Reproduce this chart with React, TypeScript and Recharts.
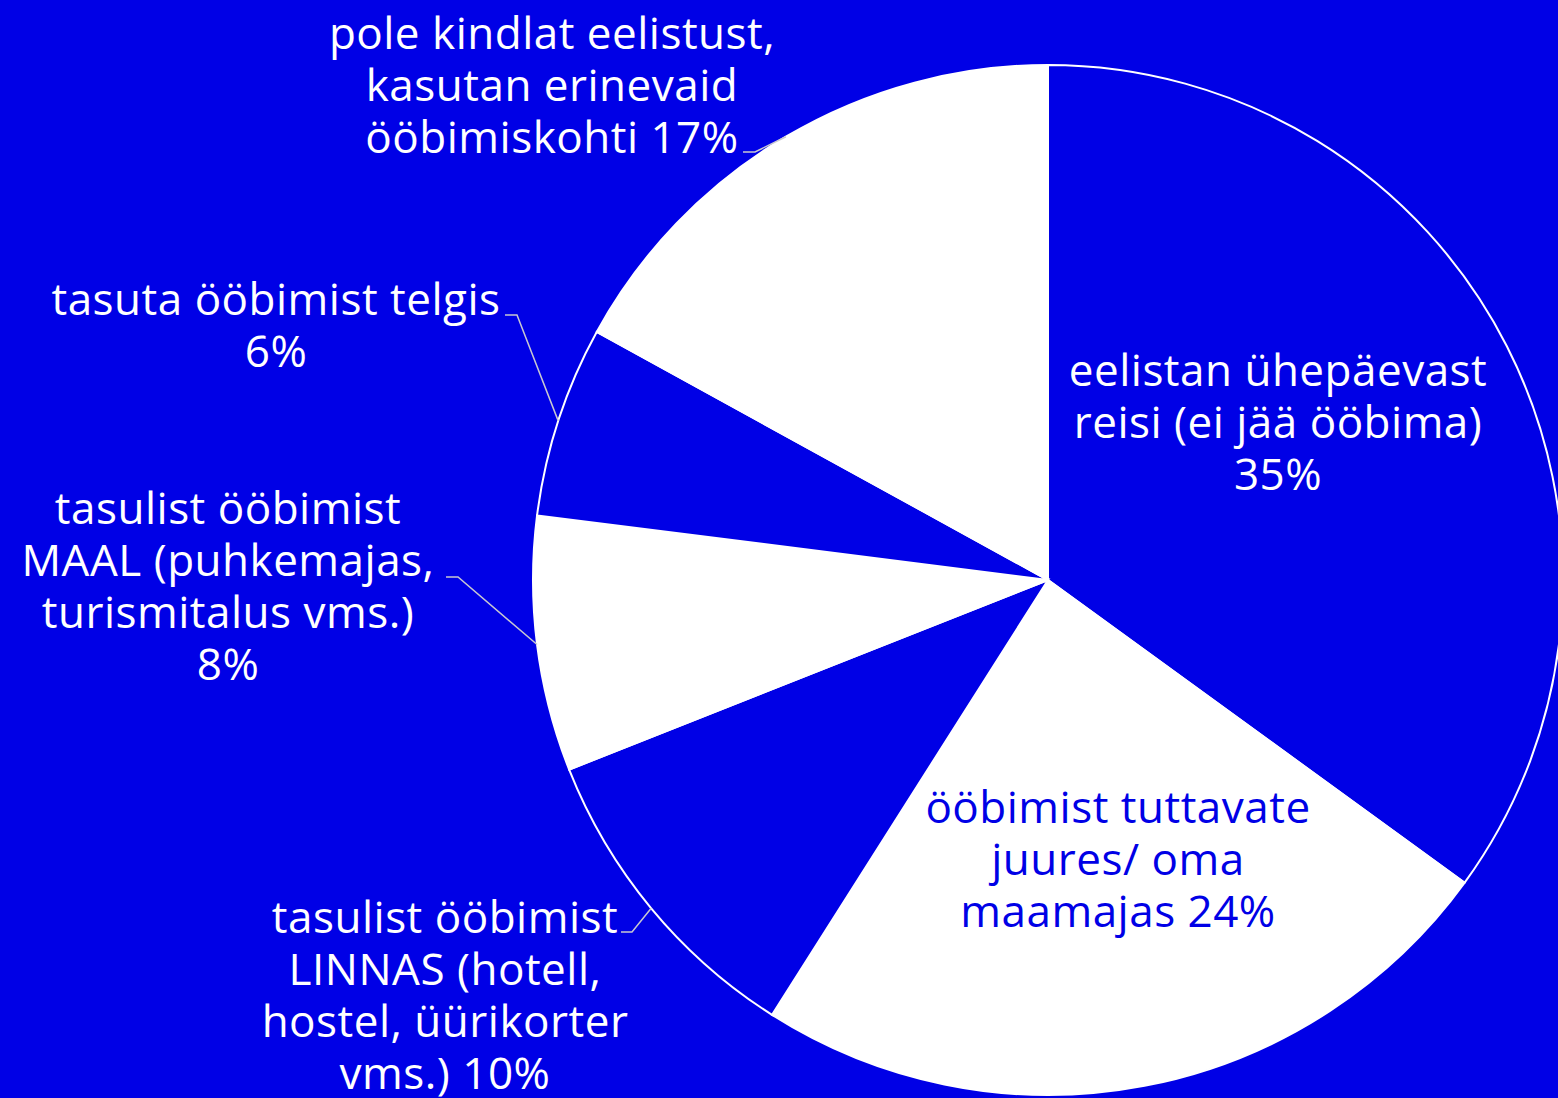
import React from "react";
import { PieChart, Pie, Cell } from "recharts";

const BLUE = "#0000e6";
const WHITE = "#ffffff";
const LEADER = "#c8c8d0";

const categories = [
  "eelistan ühepäevast reisi (ei jää ööbima)",
  "ööbimist tuttavate juures/ oma maamajas",
  "tasulist ööbimist LINNAS (hotell, hostel, üürikorter vms.)",
  "tasulist ööbimist MAAL (puhkemajas, turismitalus vms.)",
  "tasuta ööbimist telgis",
  "pole kindlat eelistust, kasutan erinevaid ööbimiskohti",
];
const values = [35, 24, 10, 8, 6, 17];
const sliceColors = [BLUE, WHITE, BLUE, WHITE, BLUE, WHITE];
const labelLines = [
  ["eelistan ühepäevast", "reisi (ei jää ööbima)", `${values[0]}%`],
  ["ööbimist tuttavate", "juures/ oma", `maamajas ${values[1]}%`],
  ["tasulist ööbimist", "LINNAS (hotell,", "hostel, üürikorter", `vms.) ${values[2]}%`],
  ["tasulist ööbimist", "MAAL (puhkemajas,", "turismitalus vms.)", `${values[3]}%`],
  ["tasuta ööbimist telgis", `${values[4]}%`],
  ["pole kindlat eelistust,", "kasutan erinevaid", `ööbimiskohti ${values[5]}%`],
];

const data = categories.map((name, i) => ({ name, value: values[i] }));

// label layout, offsets relative to the pie centre
const labelLayout = [
  { inside: true, tx: 230, ty: -194, color: WHITE },
  { inside: true, tx: 70, ty: 243, color: BLUE },
  { inside: false, tx: -603, ty: 353, ex: -416, ey: 352, sx: -427, color: WHITE },
  { inside: false, tx: -820, ty: -56, ex: -590, ey: -3, sx: -602, color: WHITE },
  { inside: false, tx: -772, ty: -265, ex: -531, ey: -265, sx: -543, color: WHITE },
  { inside: false, tx: -496, ty: -531, ex: -293, ey: -428, sx: -305, color: WHITE },
];

const FONT = "'Open Sans', Lato, sans-serif";
const FONT_SIZE = 44;
const LETTER_SPACING = 0.5;
const LINE_H = 52;
const RAD = Math.PI / 180;

const renderLabel = (props: any) => {
  const { cx, cy, midAngle, outerRadius, index } = props;
  const L = labelLayout[index];
  const lines = labelLines[index];
  const parts: React.ReactNode[] = [];
  if (!L.inside) {
    const px = cx + outerRadius * Math.cos(-midAngle * RAD);
    const py = cy + outerRadius * Math.sin(-midAngle * RAD);
    parts.push(
      <path
        key="l"
        d={`M${px},${py}L${cx + L.ex},${cy + L.ey}L${cx + L.sx},${cy + L.ey}`}
        stroke={LEADER}
        strokeWidth={1.5}
        fill="none"
      />
    );
  }
  parts.push(
    <text
      key="t"
      x={cx + L.tx}
      y={cy + L.ty}
      textAnchor="middle"
      fill={L.color}
      fontFamily={FONT}
      fontSize={FONT_SIZE}
      letterSpacing={LETTER_SPACING}
    >
      {lines.map((ln, i) => (
        <tspan key={i} x={cx + L.tx} y={cy + L.ty + i * LINE_H}>
          {ln}
        </tspan>
      ))}
    </text>
  );
  return <g>{parts}</g>;
};

export default function App() {
  return (
    <div
      style={{
        position: "absolute",
        left: 0,
        top: 0,
        width: 1558,
        height: 1098,
        background: BLUE,
        overflow: "hidden",
      }}
    >
      <PieChart width={1558} height={1098} margin={{ top: 0, right: 0, bottom: 0, left: 0 }}>
        <Pie
          data={data}
          dataKey="value"
          nameKey="name"
          cx={1048}
          cy={580}
          outerRadius={515}
          startAngle={90}
          endAngle={-270}
          stroke={WHITE}
          strokeWidth={2}
          label={renderLabel}
          labelLine={false}
          isAnimationActive={false}
        >
          {data.map((d, i) => (
            <Cell key={i} fill={sliceColors[i]} />
          ))}
        </Pie>
      </PieChart>
    </div>
  );
}
